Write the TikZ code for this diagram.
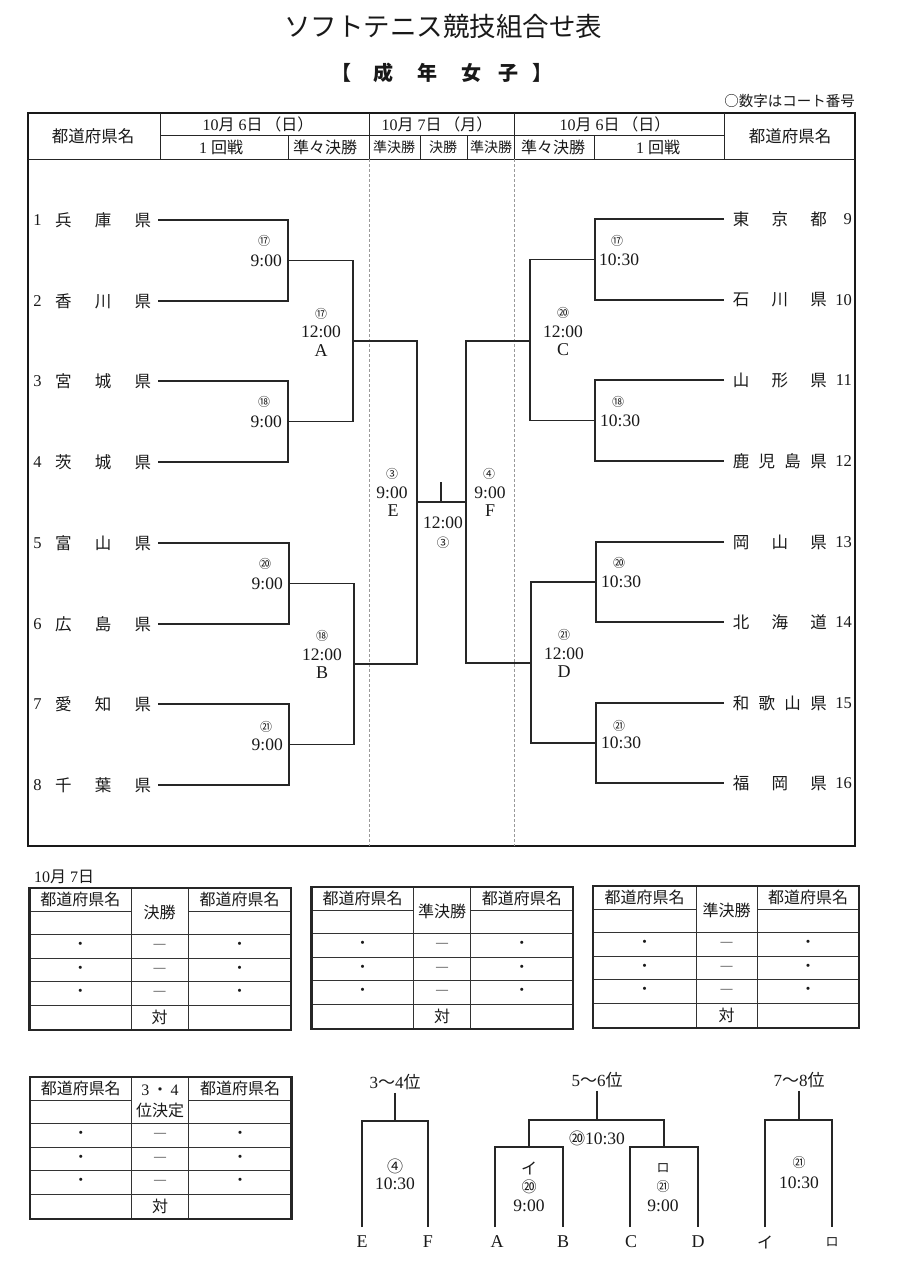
\documentclass[tikz,border=0pt]{standalone}
\usepackage{fontspec}
\setmainfont{Liberation Serif}
\newfontfamily\jp{Noto Sans CJK JP}
\newcommand\kumitbl[7]{%
  \draw[tbl] (#2,#6+23) -- (#3,#6+23) (#4,#6+23) -- (#5,#6+23)
    (#2,#6+46.5) -- (#5,#6+46.5) (#2,#6+70) -- (#5,#6+70)
    (#2,#6+93.5) -- (#5,#6+93.5) (#2,#6+117) -- (#5,#6+117)
    (#3,#6) -- (#3,#6+142) (#4,#6) -- (#4,#6+142);
  \draw[tblo] (#2,#6) rectangle (#5,#6+142);
  \node[J=16] (#1hl) at ({(#2+#3)/2},#6+11.5) {都道府県名};
  \node[J=16] (#1hr) at ({(#4+#5)/2},#6+11.5) {都道府県名};
  \node[J=16, align=center] (#1hm) at ({(#3+#4)/2},#6+24.5) {#7};
  \foreach \r/\dy in {1/58.25,2/81.75,3/105.25}{%
    \node[J=15] (#1l\r) at ({(#2+#3)/2},#6+\dy) {・};
    \node[R=12] (#1m\r) at ({(#3+#4)/2},#6+\dy) {—};
    \node[J=15] (#1r\r) at ({(#4+#5)/2},#6+\dy) {・};
  }
  \node[J=16] (#1v) at ({(#3+#4)/2},#6+129.5) {対};
}
\begin{document}
\begin{tikzpicture}[x=1pt,y=-1pt,
  J/.style={font=\jp\fontsize{#1}{21}\selectfont, inner sep=0pt, text=black!90},
  R/.style={font=\rmfamily\fontsize{#1}{21}\selectfont, inner sep=0pt, text=black!90},
  ln/.style={line width=1.3pt, draw=black!85},
  fr/.style={line width=1.8pt, draw=black!90},
  hd/.style={line width=1pt, draw=black!85},
  dl/.style={line width=0.6pt, draw=black!40, dash pattern=on 3pt off 2pt},
  tbl/.style={line width=1pt, draw=black!80},
  tblo/.style={line width=2.2pt, draw=black!85},
]
\fill[white] (0,0) rectangle (911,1280);
\useasboundingbox (0,0) rectangle (911,1280);

% ---------- titles ----------
\node[J=26.5] (title) at (443,26) {ソフトテニス競技組合せ表};
\node[J=20, font=\jp\bfseries\fontsize{20}{24}\selectfont] (sb1) at (341,73) {【};
\node[J=20, font=\jp\bfseries\fontsize{20}{24}\selectfont] (sb2) at (383,73) {成};
\node[J=20, font=\jp\bfseries\fontsize{20}{24}\selectfont] (sb3) at (427,73) {年};
\node[J=20, font=\jp\bfseries\fontsize{20}{24}\selectfont] (sb4) at (471,73) {女};
\node[J=20, font=\jp\bfseries\fontsize{20}{24}\selectfont] (sb5) at (508,73) {子};
\node[J=20, font=\jp\bfseries\fontsize{20}{24}\selectfont] (sb6) at (542,73) {】};
\node[J=14.5, anchor=east] (note) at (855,101) {○数字はコート番号};

% ---------- main frame and header ----------
\draw[fr] (28,113) rectangle (855,846);
\draw[hd] (28,159) -- (855,159);
\draw[hd] (160,135) -- (724,135);
\draw[hd] (160,113) -- (160,159) (724,113) -- (724,159)
          (369,113) -- (369,159) (514,113) -- (514,159)
          (288,135) -- (288,159) (420,135) -- (420,159)
          (467,135) -- (467,159) (594,135) -- (594,159);
\draw[dl] (369,159) -- (369,846) (514,159) -- (514,846);

\node[J=16.5] (h1) at (93,136) {都道府県名};
\node[R=16] (h2) at (258,124) {10{\jp 月}\ 6{\jp 日}\,{\jp （日）}};
\node[R=16] (h3) at (221,147) {1\ {\jp 回戦}};
\node[J=16] (h4) at (325,147) {準々決勝};
\node[R=16] (h5) at (437,124) {10{\jp 月}\ 7{\jp 日}\,{\jp （月）}};
\node[J=14] (h6) at (394,147) {準決勝};
\node[J=14] (h7) at (443,147) {決勝};
\node[J=14] (h8) at (491,147) {準決勝};
\node[R=16] (h9) at (615,124) {10{\jp 月}\ 6{\jp 日}\,{\jp （日）}};
\node[J=16] (h10) at (553,147) {準々決勝};
\node[R=16] (h11) at (658,147) {1\ {\jp 回戦}};
\node[J=16.5] (h12) at (790,136) {都道府県名};

% ---------- teams left ----------
\node[R=16.5] (n1) at (37.5,220) {1};
\node[J=16.5, anchor=west] (t1) at (55,220) {\makebox[96pt][s]{兵\hfill 庫\hfill 県}};
\node[R=16.5] (n2) at (37.5,301) {2};
\node[J=16.5, anchor=west] (t2) at (55,301) {\makebox[96pt][s]{香\hfill 川\hfill 県}};
\node[R=16.5] (n3) at (37.5,381) {3};
\node[J=16.5, anchor=west] (t3) at (55,381) {\makebox[96pt][s]{宮\hfill 城\hfill 県}};
\node[R=16.5] (n4) at (37.5,462) {4};
\node[J=16.5, anchor=west] (t4) at (55,462) {\makebox[96pt][s]{茨\hfill 城\hfill 県}};
\node[R=16.5] (n5) at (37.5,543) {5};
\node[J=16.5, anchor=west] (t5) at (55,543) {\makebox[96pt][s]{富\hfill 山\hfill 県}};
\node[R=16.5] (n6) at (37.5,624) {6};
\node[J=16.5, anchor=west] (t6) at (55,624) {\makebox[96pt][s]{広\hfill 島\hfill 県}};
\node[R=16.5] (n7) at (37.5,704) {7};
\node[J=16.5, anchor=west] (t7) at (55,704) {\makebox[96pt][s]{愛\hfill 知\hfill 県}};
\node[R=16.5] (n8) at (37.5,785) {8};
\node[J=16.5, anchor=west] (t8) at (55,785) {\makebox[96pt][s]{千\hfill 葉\hfill 県}};

% ---------- teams right ----------
\node[J=16.5, anchor=east] (t9) at (827,219) {\makebox[94pt][s]{東\hfill 京\hfill 都}};
\node[R=16.5, anchor=east] (n9) at (852,219) {9};
\node[J=16.5, anchor=east] (t10) at (827,300) {\makebox[94pt][s]{石\hfill 川\hfill 県}};
\node[R=16.5, anchor=east] (n10) at (852,300) {10};
\node[J=16.5, anchor=east] (t11) at (827,380) {\makebox[94pt][s]{山\hfill 形\hfill 県}};
\node[R=16.5, anchor=east] (n11) at (852,380) {11};
\node[J=16.5, anchor=east] (t12) at (827,461) {\makebox[94pt][s]{鹿\hfill 児\hfill 島\hfill 県}};
\node[R=16.5, anchor=east] (n12) at (852,461) {12};
\node[J=16.5, anchor=east] (t13) at (827,542) {\makebox[94pt][s]{岡\hfill 山\hfill 県}};
\node[R=16.5, anchor=east] (n13) at (852,542) {13};
\node[J=16.5, anchor=east] (t14) at (827,622) {\makebox[94pt][s]{北\hfill 海\hfill 道}};
\node[R=16.5, anchor=east] (n14) at (852,622) {14};
\node[J=16.5, anchor=east] (t15) at (827,703) {\makebox[94pt][s]{和\hfill 歌\hfill 山\hfill 県}};
\node[R=16.5, anchor=east] (n15) at (852,703) {15};
\node[J=16.5, anchor=east] (t16) at (827,783) {\makebox[94pt][s]{福\hfill 岡\hfill 県}};
\node[R=16.5, anchor=east] (n16) at (852,783) {16};

% ---------- bracket coordinates ----------
\coordinate (a1) at (158,220); \coordinate (a2) at (158,301);
\coordinate (a3) at (158,381); \coordinate (a4) at (158,462);
\coordinate (a5) at (158,543); \coordinate (a6) at (158,624);
\coordinate (a7) at (158,704); \coordinate (a8) at (158,785);
\coordinate (b9) at (724,219); \coordinate (b10) at (724,300);
\coordinate (b11) at (724,380); \coordinate (b12) at (724,461);
\coordinate (b13) at (724,542); \coordinate (b14) at (724,622);
\coordinate (b15) at (724,703); \coordinate (b16) at (724,783);
\coordinate (m1) at (288,260.5); \coordinate (m2) at (288,421.5);
\coordinate (m3) at (289,583.5); \coordinate (m4) at (289,744.5);
\coordinate (m5) at (595,259.5); \coordinate (m6) at (595,420.5);
\coordinate (m7) at (596,582);   \coordinate (m8) at (596,743);
\coordinate (q1) at (353,341); \coordinate (q2) at (354,664);
\coordinate (q3) at (530,341); \coordinate (q4) at (531,663);
\coordinate (sL) at (417,502); \coordinate (sR) at (466,502);
\coordinate (tk) at (441,482); \coordinate (tb) at (441,502);

\draw[ln] (a1) -| (m1) |- (a2);
\draw[ln] (a3) -| (m2) |- (a4);
\draw[ln] (a5) -| (m3) |- (a6);
\draw[ln] (a7) -| (m4) |- (a8);
\draw[ln] (m1) -| (q1) |- (m2);
\draw[ln] (m3) -| (q2) |- (m4);
\draw[ln] (q1) -| (sL) |- (q2);
\draw[ln] (b9) -| (m5) |- (b10);
\draw[ln] (b11) -| (m6) |- (b12);
\draw[ln] (b13) -| (m7) |- (b14);
\draw[ln] (b15) -| (m8) |- (b16);
\draw[ln] (m5) -| (q3) |- (m6);
\draw[ln] (m7) -| (q4) |- (m8);
\draw[ln] (q3) -| (sR) |- (q4);
\draw[ln] (sL) -- (sR);
\draw[ln] (tb) -- (tk);

% ---------- bracket labels ----------
\node[J=12] (c1) at (264,241) {⑰};
\node[R=17.5, anchor=east] (tm1) at (282,260.5) {9:00};
\node[J=12] (c2) at (264,402) {⑱};
\node[R=17.5, anchor=east] (tm2) at (282,421.5) {9:00};
\node[J=12] (c3) at (265,564) {⑳};
\node[R=17.5, anchor=east] (tm3) at (283,583.5) {9:00};
\node[J=12] (c4) at (266,727) {㉑};
\node[R=17.5, anchor=east] (tm4) at (283,744.5) {9:00};

\node[J=12] (cA) at (321,314) {⑰};
\node[R=17.5] (tA) at (321,332) {12:00};
\node[R=18] (lA) at (321,351) {A};
\node[J=12] (cB) at (322,636) {⑱};
\node[R=17.5] (tB) at (322,655) {12:00};
\node[R=18] (lB) at (322,673) {B};

\node[J=12] (cE) at (392,474) {③};
\node[R=17.5] (tE) at (392,493) {9:00};
\node[R=18] (lE) at (393,511) {E};
\node[J=12] (cF) at (489,474) {④};
\node[R=17.5] (tF) at (490,493) {9:00};
\node[R=18] (lF) at (490,511) {F};
\node[R=17.5] (tFin) at (443,523) {12:00};
\node[J=12.5] (cFin) at (443,543) {③};

\node[J=12] (cC) at (563,313) {⑳};
\node[R=17.5] (tC) at (563,332) {12:00};
\node[R=18] (lC) at (563,350) {C};
\node[J=12] (cD) at (564,635) {㉑};
\node[R=17.5] (tD) at (564,654) {12:00};
\node[R=18] (lD) at (564,672) {D};

\node[J=12] (c5) at (617,241) {⑰};
\node[R=17.5, anchor=west] (tm5) at (599,259.5) {10:30};
\node[J=12] (c6) at (618,402) {⑱};
\node[R=17.5, anchor=west] (tm6) at (600,420.5) {10:30};
\node[J=12] (c7) at (619,563) {⑳};
\node[R=17.5, anchor=west] (tm7) at (601,582) {10:30};
\node[J=12] (c8) at (619,726) {㉑};
\node[R=17.5, anchor=west] (tm8) at (601,743) {10:30};

% ---------- result tables ----------
\node[R=16, anchor=west] (d7) at (34,877) {10{\jp 月}\ 7{\jp 日}};
\kumitbl{T1}{29.5}{131}{188}{291}{888}{決勝}
\kumitbl{T2}{311.5}{413.5}{470.5}{573}{887}{準決勝}
\kumitbl{T3}{593}{696}{757}{859}{886}{準決勝}
\kumitbl{T4}{30}{131.5}{188.5}{291.5}{1077}{{\rmfamily 3}\,・\,{\rmfamily 4}\\位決定}

% ---------- placement brackets ----------
\node[R=17] (p34) at (395,1082) {3{\jp ～}4{\jp 位}};
\coordinate (k34) at (395,1121);
\coordinate (E0) at (362,1227); \coordinate (F0) at (428,1227);
\draw[ln] ([yshift=-3pt]p34.south) -- (k34);
\draw[ln] (E0) |- (k34) -| (F0);
\node[J=16] (c34) at (395,1166) {④};
\node[R=17.5] (t34) at (395,1184) {10:30};
\node[R=18] (bE) at (362,1242) {E};
\node[R=18] (bF) at (428,1242) {F};

\node[R=17] (p56) at (597,1080) {5{\jp ～}6{\jp 位}};
\coordinate (k56) at (597,1120);
\coordinate (kAB) at (529,1147); \coordinate (kCD) at (664,1147);
\coordinate (A0) at (495,1227); \coordinate (B0) at (563,1227);
\coordinate (C0) at (630,1227); \coordinate (D0) at (698,1227);
\draw[ln] ([yshift=-3pt]p56.south) -- (k56);
\draw[ln] (kAB) |- (k56) -| (kCD);
\draw[ln] (A0) |- (kAB) -| (B0);
\draw[ln] (C0) |- (kCD) -| (D0);
\node[R=17.5] (t56) at (597,1138) {{\jp\fontsize{16}{20}\selectfont ⑳}10:30};
\node[J=16] (kI) at (529,1168) {イ};
\node[J=15] (cI) at (529,1187) {⑳};
\node[R=17.5] (tI) at (529,1206) {9:00};
\node[J=13] (kRo) at (663,1168) {ロ};
\node[J=13] (cRo) at (663,1187) {㉑};
\node[R=17.5] (tRo) at (663,1206) {9:00};
\node[R=18] (bA) at (497,1242) {A};
\node[R=18] (bB) at (563,1242) {B};
\node[R=18] (bC) at (631,1242) {C};
\node[R=18] (bD) at (698,1242) {D};

\node[R=17] (p78) at (799,1080) {7{\jp ～}8{\jp 位}};
\coordinate (k78) at (799,1120);
\coordinate (I0) at (765,1227); \coordinate (Ro0) at (832,1227);
\draw[ln] ([yshift=-3pt]p78.south) -- (k78);
\draw[ln] (I0) |- (k78) -| (Ro0);
\node[J=13] (c78) at (799,1163) {㉑};
\node[R=17.5] (t78) at (799,1183) {10:30};
\node[J=16] (bI) at (765,1242) {イ};
\node[J=13] (bRo) at (832,1242) {ロ};
\end{tikzpicture}
\end{document}
